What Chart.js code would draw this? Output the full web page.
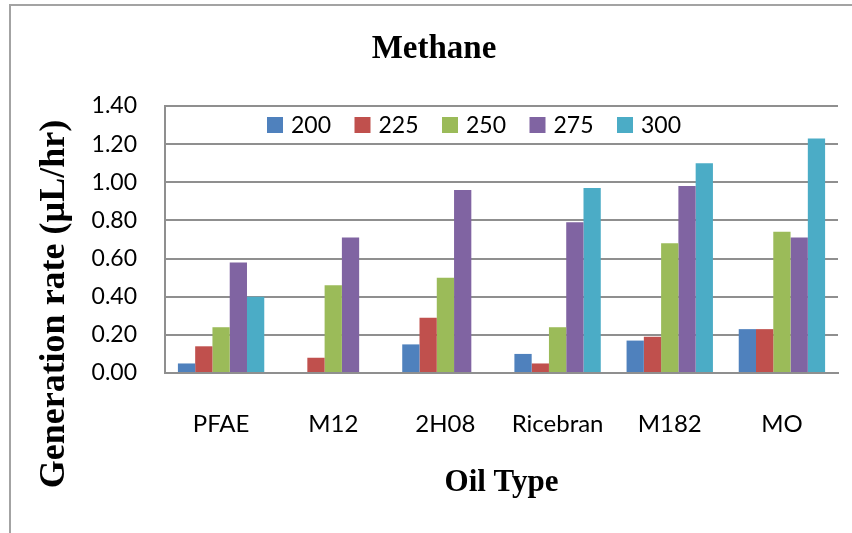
<!DOCTYPE html>
<html>
<head>
<meta charset="utf-8">
<script src="https://cdn.jsdelivr.net/npm/chart.js@4.4.1/dist/chart.umd.min.js"></script>
<style>
  html, body { margin: 0; padding: 0; background: #fff; }
  #wrap { position: relative; width: 852px; height: 533px; overflow: hidden; }
  #wrap canvas { position: absolute; left: 0; top: 0; }
  #frame {
    position: absolute; left: 9px; top: 4px; right: -2px; bottom: -2px;
    border-left: 2px solid #a3a3a3; border-top: 2px solid #a3a3a3;
    pointer-events: none;
  }
</style>
</head>
<body>
<div id="wrap">
  <canvas id="chart" width="852" height="533"></canvas>
  <div id="frame"></div>
</div>
<script>
// Oil types on the category axis
const categories = ['PFAE', 'M12', '2H08', 'Ricebran', 'M182', 'MO'];

// Temperature series (legend labels)
const seriesNames = ['200', '225', '250', '275', '300'];

// Methane generation rate, µL/hr, one array per temperature
const rate200 = [0.05, 0, 0.15, 0.10, 0.17, 0.23];
const rate225 = [0.14, 0.08, 0.29, 0.05, 0.19, 0.23];
const rate250 = [0.24, 0.46, 0.50, 0.24, 0.68, 0.74];
const rate275 = [0.58, 0.71, 0.96, 0.79, 0.98, 0.71];
const rate300 = [0.40, 0, 0, 0.97, 1.10, 1.23];

// Value axis range
const yMin = 0;
const yMax = 1.4;
const yStep = 0.2;

const chartTitle = 'Methane';
const xAxisTitle = 'Oil Type';
const yAxisTitle = 'Generation rate (µL/hr)';

const seriesColors = ['#4F81BD', '#C0504D', '#9BBB59', '#8064A2', '#4BACC6'];
const seriesValues = [rate200, rate225, rate250, rate275, rate300];

const gridColor = '#8f8f8f';
const labelFont = 'Lato';
const serifFont = '"Liberation Serif", "Times New Roman", serif';

// Legend drawn as a single row inside the top band of the plot area
const innerLegend = {
  id: 'innerLegend',
  afterDatasetsDraw(chart, args, opts) {
    const { ctx, chartArea } = chart;
    ctx.save();
    ctx.font = opts.font;
    ctx.textBaseline = 'middle';
    ctx.textAlign = 'left';
    let x = chartArea.left + opts.offsetX;
    const y = chartArea.top + opts.offsetY;
    chart.data.datasets.forEach(ds => {
      ctx.fillStyle = ds.backgroundColor;
      ctx.fillRect(x, y - opts.box / 2, opts.box, opts.box);
      ctx.fillStyle = opts.color;
      ctx.fillText(ds.label, x + opts.box + opts.gap, y + 1);
      x += opts.step;
    });
    ctx.restore();
  }
};

// Rotated caption for the value axis
const valueCaption = {
  id: 'valueCaption',
  afterDraw(chart, args, opts) {
    const { ctx } = chart;
    ctx.save();
    ctx.translate(opts.x, opts.y);
    ctx.rotate(-Math.PI / 2);
    ctx.font = opts.font;
    ctx.fillStyle = opts.color;
    ctx.textAlign = 'center';
    ctx.textBaseline = 'middle';
    ctx.fillText(opts.text, 0, 0);
    ctx.restore();
  }
};

new Chart(document.getElementById('chart'), {
  type: 'bar',
  data: {
    labels: categories,
    datasets: seriesNames.map((name, i) => ({
      label: name,
      data: seriesValues[i],
      backgroundColor: seriesColors[i],
      borderWidth: 0,
      categoryPercentage: 0.77,
      barPercentage: 1.0
    }))
  },
  options: {
    responsive: false,
    animation: false,
    devicePixelRatio: 1,
    layout: { padding: { left: 30, right: 14, top: 5, bottom: 0 } },
    plugins: {
      legend: { display: false },
      tooltip: { enabled: false },
      title: {
        display: true,
        text: chartTitle,
        color: '#000',
        font: { family: serifFont, size: 33, weight: 'bold', lineHeight: 1.2 },
        padding: { top: 25, bottom: 36.4 }
      },
      innerLegend: {
        font: '23px Lato',
        color: '#000',
        offsetX: 102,
        offsetY: 19,
        box: 16,
        gap: 8,
        step: 87.5
      },
      valueCaption: {
        text: yAxisTitle,
        x: 55,
        y: 304,
        font: 'bold 36px ' + serifFont,
        color: '#000'
      }
    },
    scales: {
      x: {
        grid: { display: false, drawTicks: false },
        border: { display: true, color: gridColor, width: 2 },
        ticks: {
          color: '#000',
          font: { family: labelFont, size: 24 },
          padding: 37,
          maxRotation: 0,
          autoSkip: false
        },
        title: {
          display: true,
          text: xAxisTitle,
          color: '#000',
          font: { family: serifFont, size: 31, weight: 'bold', lineHeight: 1.2 },
          padding: { top: 0, bottom: 31 }
        },
        afterFit(scale) { scale.height = 160; }
      },
      y: {
        min: yMin,
        max: yMax,
        grid: { color: gridColor, lineWidth: 2, drawTicks: false },
        border: { display: true, color: gridColor, width: 2 },
        ticks: {
          stepSize: yStep,
          color: '#000',
          font: { family: labelFont, size: 23 },
          padding: 28,
          callback: v => Number(v).toFixed(2)
        },
        title: { display: false },
        afterFit(scale) { scale.width = 135; }
      }
    }
  },
  plugins: [innerLegend, valueCaption]
});
</script>
</body>
</html>
